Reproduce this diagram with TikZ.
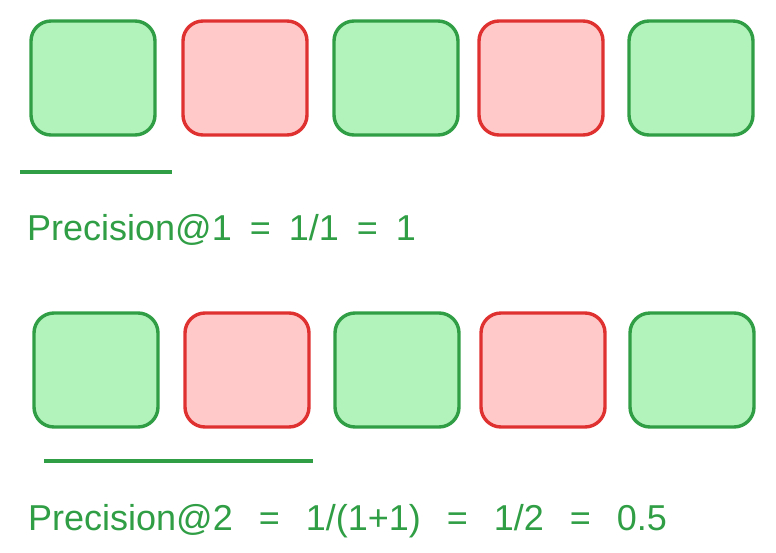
\documentclass[tikz,border=0pt]{standalone}
\usepackage{fontspec}
\setmainfont{Liberation Sans}
\usepackage{xcolor}
\usetikzlibrary{calc}
\definecolor{hitline}{HTML}{2F9E44}
\definecolor{hitfill}{HTML}{B2F2BB}
\definecolor{missline}{HTML}{E03131}
\definecolor{missfill}{HTML}{FFC9C9}
\newcommand{\lblfont}[1]{\fontsize{36}{42}\selectfont\spaceskip=#1\relax}

\begin{document}
\begin{tikzpicture}[x=1pt,y=-1pt,
	box/.style={draw,line width=3.4pt,rounded corners=20pt,minimum width=124pt,minimum height=114pt,inner sep=0pt},
	hit/.style={box,draw=hitline,fill=hitfill},
	miss/.style={box,draw=missline,fill=missfill},
	rule/.style={draw=hitline,line width=3.2pt},
	lbl/.style={anchor=base west,text=hitline,inner sep=0pt,font=\lblfont{18pt}}]
	\useasboundingbox (0,0) rectangle (776,552);
	
	%first row
	\node[hit] (a1) at (93,78){};
	\node[miss] (a2) at (245,78){};
	\node[hit] (a3) at (396,78){};
	\node[miss] (a4) at (541,78){};
	\node[hit] (a5) at (691,78){};
	%second row
	\node[hit] (b1) at (96,370){};
	\node[miss] (b2) at (247,370){};
	\node[hit] (b3) at (397,370){};
	\node[miss] (b4) at (543,370){};
	\node[hit] (b5) at (692,370){};
	%underlines
	\coordinate (u1) at (20,172);
	\coordinate (v1) at (172,172);
	\coordinate (u2) at (44,461);
	\coordinate (v2) at (313,461);
	\draw[rule] (u1) -- (v1);
	\draw[rule] (u2) -- (v2);
	%labels
	\node[lbl] (p1) at (27,240){Precision@1 = 1/1 = 1};
	\node[lbl,font=\lblfont{26pt}] (p2) at (28,530){Precision@2 = 1/(1+1) = 1/2 = 0.5};
\end{tikzpicture}
\end{document}
